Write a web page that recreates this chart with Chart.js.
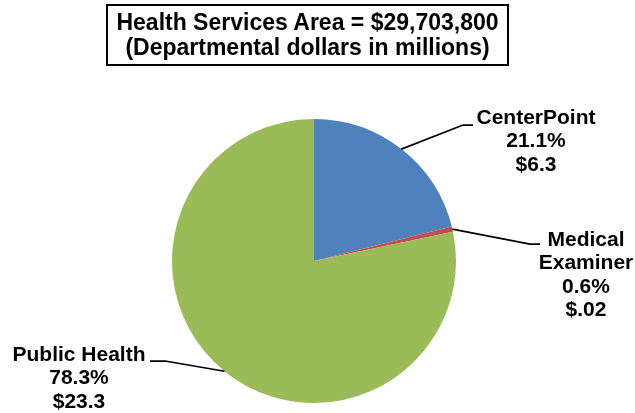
<!DOCTYPE html>
<html>
<head>
<meta charset="utf-8">
<script src="https://cdn.jsdelivr.net/npm/chart.js@4/dist/chart.umd.min.js"></script>
<style>
  html, body { margin: 0; padding: 0; background: #fff; }
  #wrap { position: relative; width: 635px; height: 413px; }
  #title {
    position: absolute; left: 106px; top: 4px; width: 399px; height: 54px;
    border: 2px solid #000; box-sizing: content-box;
    font: bold 23px "Liberation Sans", Arial, sans-serif; color: #000;
    text-align: center; line-height: 25px; padding-top: 4px;
  }
</style>
</head>
<body>
<div id="wrap">
  <canvas id="healthPie" width="635" height="413"></canvas>
  <div id="title">Health Services Area = $29,703,800<br>(Departmental dollars in millions)</div>
</div>
<script>
// Departments and their share of the area budget
const departments = ['CenterPoint', 'Medical Examiner', 'Public Health'];
const sharePct = [21.1, 0.6, 78.3];
const dollarLabels = ['$6.3', '$.02', '$23.3'];
const sliceColors = ['#4F81BD', '#C0504D', '#9BBB59'];

// Where each callout sits: elbow of the leader, end of the leader, text centre and text lines
const callouts = [
    { elbow: [463, 125], end: [473, 125], textX: 536, textY: 118, lines: ['CenterPoint'] },
    { elbow: [530, 244], end: [540, 244], textX: 586, textY: 240, lines: ['Medical', 'Examiner'] },
    { elbow: [165, 361], end: [150, 361], textX: 79, textY: 355, lines: ['Public Health'] }
];

// Draws leader lines from each slice's outer edge plus the multi-line label
const calloutPlugin = {
    id: 'callouts',
    afterDatasetsDraw(chart) {
        const ctx = chart.ctx;
        const meta = chart.getDatasetMeta(0);
        ctx.save();
        meta.data.forEach(function(arc, i) {
            const c = callouts[i];
            const mid = (arc.startAngle + arc.endAngle) / 2;
            const sx = arc.x + Math.cos(mid) * arc.outerRadius;
            const sy = arc.y + Math.sin(mid) * arc.outerRadius;
            ctx.strokeStyle = '#000';
            ctx.lineWidth = 1.75;
            ctx.beginPath();
            ctx.moveTo(sx, sy);
            ctx.lineTo(c.elbow[0], c.elbow[1]);
            ctx.lineTo(c.end[0], c.end[1]);
            ctx.stroke();

            const text = c.lines.concat([sharePct[i].toFixed(1) + '%', dollarLabels[i]]);
            ctx.fillStyle = '#000';
            ctx.font = 'bold 21px "Liberation Sans", Arial, sans-serif';
            ctx.textAlign = 'center';
            ctx.textBaseline = 'middle';
            text.forEach(function(t, k) {
                ctx.fillText(t, c.textX, c.textY + k * 23.5);
            });
        });
        ctx.restore();
    }
};

const ctx = document.getElementById('healthPie').getContext('2d');
const healthPie = new Chart(ctx, {
    type: 'pie',
    data: {
        labels: departments,
        datasets: [{
            data: sharePct,
            backgroundColor: sliceColors,
            borderWidth: 0
        }]
    },
    options: {
        responsive: false,
        animation: false,
        layout: {
            padding: { top: 119, bottom: 10, left: 0, right: 7 }
        },
        plugins: {
            legend: { display: false },
            tooltip: { enabled: false }
        }
    },
    plugins: [calloutPlugin]
});
</script>
</body>
</html>
